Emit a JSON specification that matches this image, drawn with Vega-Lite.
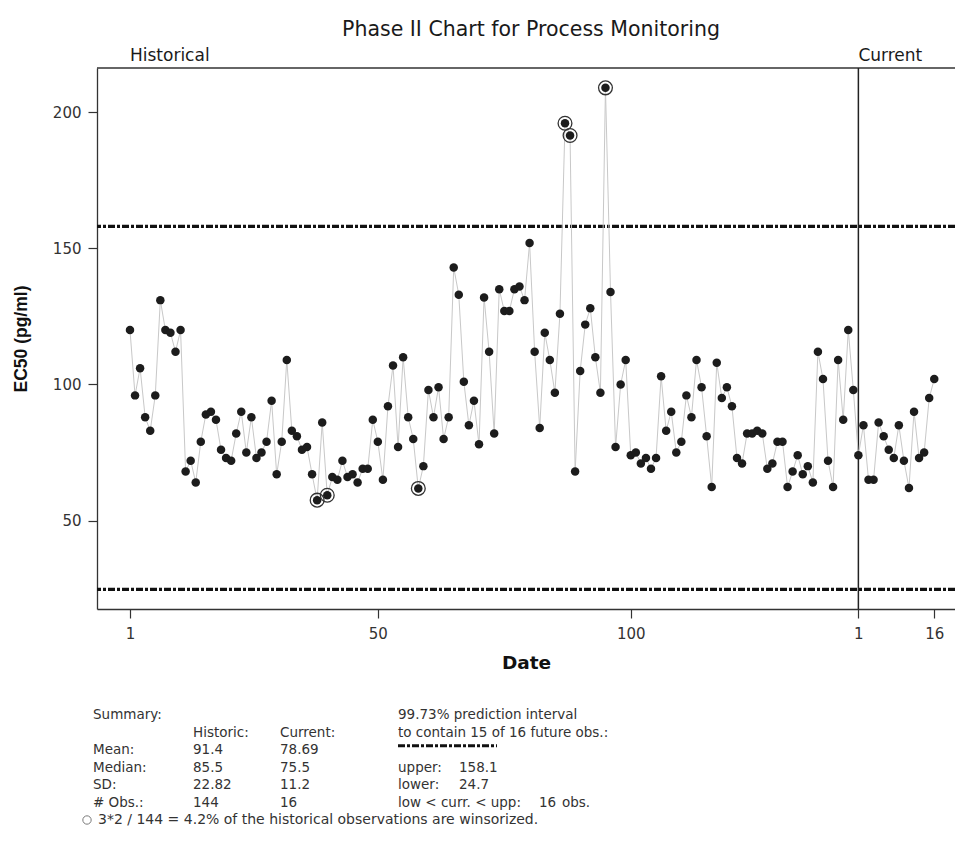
{
  "$schema": "https://vega.github.io/schema/vega-lite/v6.json",
  "autosize": {"type": "none"},
  "padding": {"left": 97, "top": 68, "right": 0, "bottom": 244},
  "width": 858,
  "height": 541,
  "background": "white",
  "title": {
    "text": "Phase II Chart for Process Monitoring",
    "font": "DejaVu Sans",
    "fontSize": 20.5,
    "fontWeight": "normal",
    "color": "#1a1a1a",
    "anchor": "middle",
    "frame": "group",
    "baseline": "alphabetic",
    "offset": -9,
    "dx": 5
  },
  "config": {
    "view": {"stroke": null},
    "axis": {
      "grid": false,
      "domainColor": "#333333",
      "domainWidth": 1.3,
      "tickColor": "#333333",
      "tickWidth": 1.2,
      "tickSize": 9,
      "labelFont": "DejaVu Sans",
      "labelFontSize": 15,
      "labelColor": "#333333",
      "titleColor": "#111111"
    }
  },
  "datasets": {
    "ec50": [
      {"t": 1, "ec50": 120, "w": 0}, {"t": 2, "ec50": 96, "w": 0}, {"t": 3, "ec50": 106, "w": 0}, {"t": 4, "ec50": 88, "w": 0},
      {"t": 5, "ec50": 83, "w": 0}, {"t": 6, "ec50": 96, "w": 0}, {"t": 7, "ec50": 131, "w": 0}, {"t": 8, "ec50": 120, "w": 0},
      {"t": 9, "ec50": 119, "w": 0}, {"t": 10, "ec50": 112, "w": 0}, {"t": 11, "ec50": 120, "w": 0}, {"t": 12, "ec50": 68, "w": 0},
      {"t": 13, "ec50": 72, "w": 0}, {"t": 14, "ec50": 64, "w": 0}, {"t": 15, "ec50": 79, "w": 0}, {"t": 16, "ec50": 89, "w": 0},
      {"t": 17, "ec50": 90, "w": 0}, {"t": 18, "ec50": 87, "w": 0}, {"t": 19, "ec50": 76, "w": 0}, {"t": 20, "ec50": 73, "w": 0},
      {"t": 21, "ec50": 72, "w": 0}, {"t": 22, "ec50": 82, "w": 0}, {"t": 23, "ec50": 90, "w": 0}, {"t": 24, "ec50": 75, "w": 0},
      {"t": 25, "ec50": 88, "w": 0}, {"t": 26, "ec50": 73, "w": 0}, {"t": 27, "ec50": 75, "w": 0}, {"t": 28, "ec50": 79, "w": 0},
      {"t": 29, "ec50": 94, "w": 0}, {"t": 30, "ec50": 67, "w": 0}, {"t": 31, "ec50": 79, "w": 0}, {"t": 32, "ec50": 109, "w": 0},
      {"t": 33, "ec50": 83, "w": 0}, {"t": 34, "ec50": 81, "w": 0}, {"t": 35, "ec50": 76, "w": 0}, {"t": 36, "ec50": 77, "w": 0},
      {"t": 37, "ec50": 67, "w": 0}, {"t": 38, "ec50": 57.5, "w": 1}, {"t": 39, "ec50": 86, "w": 0}, {"t": 40, "ec50": 59.3, "w": 1},
      {"t": 41, "ec50": 66, "w": 0}, {"t": 42, "ec50": 65, "w": 0}, {"t": 43, "ec50": 72, "w": 0}, {"t": 44, "ec50": 66, "w": 0},
      {"t": 45, "ec50": 67, "w": 0}, {"t": 46, "ec50": 64, "w": 0}, {"t": 47, "ec50": 69, "w": 0}, {"t": 48, "ec50": 69, "w": 0},
      {"t": 49, "ec50": 87, "w": 0}, {"t": 50, "ec50": 79, "w": 0}, {"t": 51, "ec50": 65, "w": 0}, {"t": 52, "ec50": 92, "w": 0},
      {"t": 53, "ec50": 107, "w": 0}, {"t": 54, "ec50": 77, "w": 0}, {"t": 55, "ec50": 110, "w": 0}, {"t": 56, "ec50": 88, "w": 0},
      {"t": 57, "ec50": 80, "w": 0}, {"t": 58, "ec50": 61.8, "w": 1}, {"t": 59, "ec50": 70, "w": 0}, {"t": 60, "ec50": 98, "w": 0},
      {"t": 61, "ec50": 88, "w": 0}, {"t": 62, "ec50": 99, "w": 0}, {"t": 63, "ec50": 80, "w": 0}, {"t": 64, "ec50": 88, "w": 0},
      {"t": 65, "ec50": 143, "w": 0}, {"t": 66, "ec50": 133, "w": 0}, {"t": 67, "ec50": 101, "w": 0}, {"t": 68, "ec50": 85, "w": 0},
      {"t": 69, "ec50": 94, "w": 0}, {"t": 70, "ec50": 78, "w": 0}, {"t": 71, "ec50": 132, "w": 0}, {"t": 72, "ec50": 112, "w": 0},
      {"t": 73, "ec50": 82, "w": 0}, {"t": 74, "ec50": 135, "w": 0}, {"t": 75, "ec50": 127, "w": 0}, {"t": 76, "ec50": 127, "w": 0},
      {"t": 77, "ec50": 135, "w": 0}, {"t": 78, "ec50": 136, "w": 0}, {"t": 79, "ec50": 131, "w": 0}, {"t": 80, "ec50": 152, "w": 0},
      {"t": 81, "ec50": 112, "w": 0}, {"t": 82, "ec50": 84, "w": 0}, {"t": 83, "ec50": 119, "w": 0}, {"t": 84, "ec50": 109, "w": 0},
      {"t": 85, "ec50": 97, "w": 0}, {"t": 86, "ec50": 126, "w": 0}, {"t": 87, "ec50": 196, "w": 1}, {"t": 88, "ec50": 191.5, "w": 1},
      {"t": 89, "ec50": 68, "w": 0}, {"t": 90, "ec50": 105, "w": 0}, {"t": 91, "ec50": 122, "w": 0}, {"t": 92, "ec50": 128, "w": 0},
      {"t": 93, "ec50": 110, "w": 0}, {"t": 94, "ec50": 97, "w": 0}, {"t": 95, "ec50": 209, "w": 1}, {"t": 96, "ec50": 134, "w": 0},
      {"t": 97, "ec50": 77, "w": 0}, {"t": 98, "ec50": 100, "w": 0}, {"t": 99, "ec50": 109, "w": 0}, {"t": 100, "ec50": 74, "w": 0},
      {"t": 101, "ec50": 75, "w": 0}, {"t": 102, "ec50": 71, "w": 0}, {"t": 103, "ec50": 73, "w": 0}, {"t": 104, "ec50": 69, "w": 0},
      {"t": 105, "ec50": 73, "w": 0}, {"t": 106, "ec50": 103, "w": 0}, {"t": 107, "ec50": 83, "w": 0}, {"t": 108, "ec50": 90, "w": 0},
      {"t": 109, "ec50": 75, "w": 0}, {"t": 110, "ec50": 79, "w": 0}, {"t": 111, "ec50": 96, "w": 0}, {"t": 112, "ec50": 88, "w": 0},
      {"t": 113, "ec50": 109, "w": 0}, {"t": 114, "ec50": 99, "w": 0}, {"t": 115, "ec50": 81, "w": 0}, {"t": 116, "ec50": 62.3, "w": 0},
      {"t": 117, "ec50": 108, "w": 0}, {"t": 118, "ec50": 95, "w": 0}, {"t": 119, "ec50": 99, "w": 0}, {"t": 120, "ec50": 92, "w": 0},
      {"t": 121, "ec50": 73, "w": 0}, {"t": 122, "ec50": 71, "w": 0}, {"t": 123, "ec50": 82, "w": 0}, {"t": 124, "ec50": 82, "w": 0},
      {"t": 125, "ec50": 83, "w": 0}, {"t": 126, "ec50": 82, "w": 0}, {"t": 127, "ec50": 69, "w": 0}, {"t": 128, "ec50": 71, "w": 0},
      {"t": 129, "ec50": 79, "w": 0}, {"t": 130, "ec50": 79, "w": 0}, {"t": 131, "ec50": 62.3, "w": 0}, {"t": 132, "ec50": 68, "w": 0},
      {"t": 133, "ec50": 74, "w": 0}, {"t": 134, "ec50": 67, "w": 0}, {"t": 135, "ec50": 70, "w": 0}, {"t": 136, "ec50": 64, "w": 0},
      {"t": 137, "ec50": 112, "w": 0}, {"t": 138, "ec50": 102, "w": 0}, {"t": 139, "ec50": 72, "w": 0}, {"t": 140, "ec50": 62.3, "w": 0},
      {"t": 141, "ec50": 109, "w": 0}, {"t": 142, "ec50": 87, "w": 0}, {"t": 143, "ec50": 120, "w": 0}, {"t": 144, "ec50": 98, "w": 0},
      {"t": 145, "ec50": 74, "w": 0}, {"t": 146, "ec50": 85, "w": 0}, {"t": 147, "ec50": 65, "w": 0}, {"t": 148, "ec50": 65, "w": 0},
      {"t": 149, "ec50": 86, "w": 0}, {"t": 150, "ec50": 81, "w": 0}, {"t": 151, "ec50": 76, "w": 0}, {"t": 152, "ec50": 73, "w": 0},
      {"t": 153, "ec50": 85, "w": 0}, {"t": 154, "ec50": 72, "w": 0}, {"t": 155, "ec50": 62, "w": 0}, {"t": 156, "ec50": 90, "w": 0},
      {"t": 157, "ec50": 73, "w": 0}, {"t": 158, "ec50": 75, "w": 0}, {"t": 159, "ec50": 95, "w": 0}, {"t": 160, "ec50": 102, "w": 0}
    ],
    "limits": [
      {"bound": "upper", "limit": 158.1},
      {"bound": "lower", "limit": 24.7}
    ],
    "phases": [
      {"t": 1, "phase": "Historical"},
      {"t": 145, "phase": "Current"}
    ],
    "summary": [
      {"row": 0, "col": 1, "text": "Summary:"},
      {"row": 1, "col": 3, "text": "Historic:"},
      {"row": 1, "col": 4, "text": "Current:"},
      {"row": 2, "col": 1, "text": "Mean:"},
      {"row": 2, "col": 3, "text": "91.4"},
      {"row": 2, "col": 4, "text": "78.69"},
      {"row": 3, "col": 1, "text": "Median:"},
      {"row": 3, "col": 3, "text": "85.5"},
      {"row": 3, "col": 4, "text": "75.5"},
      {"row": 4, "col": 1, "text": "SD:"},
      {"row": 4, "col": 3, "text": "22.82"},
      {"row": 4, "col": 4, "text": "11.2"},
      {"row": 5, "col": 1, "text": "# Obs.:"},
      {"row": 5, "col": 3, "text": "144"},
      {"row": 5, "col": 4, "text": "16"},
      {"row": 0, "col": 5, "text": "99.73% prediction interval"},
      {"row": 1, "col": 5, "text": "to contain 15 of 16 future obs.:"},
      {"row": 3, "col": 5, "text": "upper:"},
      {"row": 3, "col": 6, "text": "158.1"},
      {"row": 4, "col": 5, "text": "lower:"},
      {"row": 4, "col": 6, "text": "24.7"},
      {"row": 5, "col": 5, "text": "low < curr. < upp:"},
      {"row": 5, "col": 8, "text": "16"},
      {"row": 5, "col": 9, "text": "obs."},
      {"row": 6, "col": 2, "text": "3*2 / 144 = 4.2% of the historical observations are winsorized."}
    ]
  },
  "layer": [
    {
      "encoding": {
        "x": {
          "type": "quantitative",
          "scale": {"domain": [-5.52, 164.1], "nice": false, "zero": false}
        },
        "y": {
          "type": "quantitative",
          "scale": {"domain": [17.5, 216.3], "nice": false, "zero": false}
        }
      },
      "layer": [
        {
          "data": {"name": "limits"},
          "mark": {"type": "rule", "color": "#111111", "strokeWidth": 3.2, "strokeDash": [7, 2, 3, 2]},
          "encoding": {"y": {"field": "limit", "type": "quantitative"}}
        },
        {
          "data": {"values": [{}]},
          "mark": {"type": "rule", "color": "#333333", "strokeWidth": 1.3},
          "encoding": {"y": {"datum": 216.3, "type": "quantitative"}}
        },
        {
          "data": {"values": [{}]},
          "mark": {"type": "rule", "color": "#222222", "strokeWidth": 1.5},
          "encoding": {"x": {"datum": 145, "type": "quantitative"}}
        },
        {
          "data": {"name": "ec50"},
          "mark": {"type": "line", "color": "#c8c8c8", "strokeWidth": 1},
          "encoding": {
            "x": {
              "field": "t",
              "type": "quantitative",
              "title": "Date",
              "axis": {
                "values": [1, 50, 100, 145, 160],
                "labelExpr": "datum.value == 145 ? '1' : datum.value == 160 ? '16' : datum.label",
                "labelPadding": 8,
                "titleFont": "DejaVu Sans",
                "titleFontSize": 18.5,
                "titleFontWeight": "bold",
                "titlePadding": 12
              }
            },
            "y": {
              "field": "ec50",
              "type": "quantitative",
              "title": "EC50 (pg/ml)",
              "axis": {
                "values": [50, 100, 150, 200],
                "labelPadding": 7,
                "titleFont": "Liberation Sans",
                "titleFontSize": 17.5,
                "titleFontWeight": "bold",
                "titlePadding": 22
              }
            }
          }
        },
        {
          "data": {"name": "ec50"},
          "mark": {"type": "point", "filled": true, "color": "#1c1c1c", "size": 72, "opacity": 1},
          "encoding": {
            "x": {"field": "t", "type": "quantitative"},
            "y": {"field": "ec50", "type": "quantitative"}
          }
        },
        {
          "data": {"name": "ec50"},
          "transform": [{"filter": "datum.w == 1"}],
          "mark": {"type": "point", "filled": false, "color": "#333333", "strokeWidth": 1.3, "size": 190, "opacity": 1},
          "encoding": {
            "x": {"field": "t", "type": "quantitative"},
            "y": {"field": "ec50", "type": "quantitative"}
          }
        },
        {
          "data": {"name": "phases"},
          "mark": {"type": "text", "font": "DejaVu Sans", "fontSize": 17, "color": "#1a1a1a", "align": "left", "baseline": "bottom", "dy": -3},
          "encoding": {
            "x": {"field": "t", "type": "quantitative"},
            "y": {"datum": 216.3, "type": "quantitative"},
            "text": {"field": "phase"}
          }
        }
      ]
    },
    {
      "data": {"name": "summary"},
      "encoding": {
        "x": {
          "type": "quantitative",
          "axis": null,
          "scale": {
            "domain": [0, 1, 2, 3, 4, 5, 6, 7, 8, 9],
            "range": [-10, -4, 1, 96, 183, 301, 362, 400, 442, 465],
            "nice": false,
            "zero": false
          }
        },
        "y": {
          "type": "quantitative",
          "axis": null,
          "scale": {"domain": [0, 6], "range": [647, 752], "nice": false, "zero": false}
        }
      },
      "layer": [
        {
          "transform": [{"filter": "datum.row < 6"}],
          "mark": {"type": "text", "font": "DejaVu Sans", "fontSize": 13.5, "color": "#333333", "align": "left", "baseline": "middle"},
          "encoding": {
            "x": {"field": "col", "type": "quantitative"},
            "y": {"field": "row", "type": "quantitative"},
            "text": {"field": "text"}
          }
        },
        {
          "transform": [{"filter": "datum.row == 6"}],
          "mark": {"type": "text", "font": "DejaVu Sans", "fontSize": 14, "color": "#333333", "align": "left", "baseline": "middle"},
          "encoding": {
            "x": {"field": "col", "type": "quantitative"},
            "y": {"field": "row", "type": "quantitative"},
            "text": {"field": "text"}
          }
        },
        {
          "data": {"values": [{}]},
          "mark": {"type": "rule", "color": "#111111", "strokeWidth": 3, "strokeDash": [7, 2, 3, 2]},
          "encoding": {
            "x": {"datum": 5, "type": "quantitative"},
            "x2": {"datum": 7},
            "y": {"datum": 1.75, "type": "quantitative"}
          }
        },
        {
          "data": {"values": [{}]},
          "mark": {"type": "point", "shape": "circle", "filled": false, "color": "#444444", "strokeWidth": 1, "size": 70},
          "encoding": {
            "x": {"datum": 0, "type": "quantitative"},
            "y": {"datum": 6, "type": "quantitative"}
          }
        }
      ]
    }
  ],
  "resolve": {"scale": {"x": "independent", "y": "independent"}}
}
